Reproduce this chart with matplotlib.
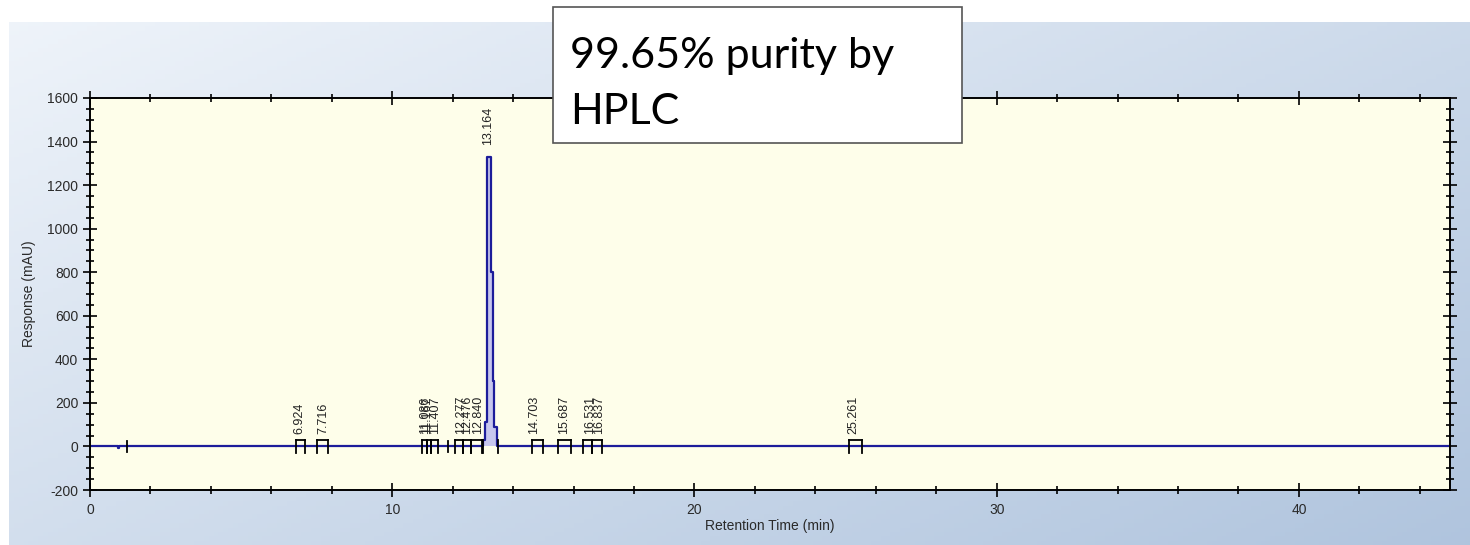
import numpy as np
import matplotlib
matplotlib.use("Agg")
import matplotlib.pyplot as plt
from matplotlib.ticker import MultipleLocator

# chromatogram trace (min, mAU)
trace_time = [0.0, 0.90, 0.93, 0.97, 13.00, 13.02, 13.08, 13.15, 13.26, 13.32, 13.38, 13.46, 45.0]
trace_resp = [0, 0, -8, 0, 0, 30, 110, 1330, 800, 300, 90, 0, 0]

# integrated peaks: retention time, start, end
peak_rt = [6.924, 7.716, 11.086, 11.167, 11.407, 12.277, 12.476, 12.840,
           13.164, 14.703, 15.687, 16.531, 16.837, 25.261]
peak_start = [6.82, 7.52, 11.00, 11.14, 11.28, 12.08, 12.35, 12.62,
              13.00, 14.62, 15.50, 16.30, 16.62, 25.10]
peak_end = [7.12, 7.88, 11.14, 11.28, 11.50, 12.35, 12.62, 12.98,
            13.50, 14.98, 15.90, 16.62, 16.95, 25.55]
peak_height = [0, 0, 0, 0, 0, 0, 0, 0, 1330, 0, 0, 0, 0, 0]

# lone integration marks
extra_marks = [1.22, 11.83]

note = "99.65% purity by\nHPLC"

plt.rcParams["font.family"] = ["Liberation Sans", "DejaVu Sans"]
plt.rcParams["axes.unicode_minus"] = False
fig = plt.figure(figsize=(14.7, 5.45), dpi=100, facecolor="white")

# gradient backdrop
bg = fig.add_axes([9 / 1470, 0, 1 - 9 / 1470, (545 - 22) / 545], zorder=-10)
gx, gy = np.meshgrid(np.linspace(0, 1, 300), np.linspace(0, 1, 120))
g = 0.55 * gx + 0.45 * gy
c0 = np.array([0.935, 0.955, 0.98])
c1 = np.array([0.69, 0.77, 0.87])
img = c0 + (c1 - c0) * g[..., None]
bg.imshow(img, aspect="auto", origin="upper", extent=[0, 1, 0, 1])
bg.set_axis_off()

ax = fig.add_axes([90 / 1470, (545 - 490) / 545, 1360 / 1470, 392 / 545])
ax.set_facecolor("#fefeea")

ax.fill_between(trace_time, trace_resp, 0, step="post", color="#c6c6ee", lw=0)
ax.step(trace_time, trace_resp, where="post", color="#1c1c9a", lw=1.6)

for rt, s, e, h in zip(peak_rt, peak_start, peak_end, peak_height):
    ax.plot([s, s], [-30, 30], color="black", lw=1.3)
    ax.plot([e, e], [-30, 30], color="black", lw=1.3)
    if h == 0:
        ax.plot([s, e], [30, 30], color="black", lw=1.3)
    ax.text(rt, h + 55, f"{rt:.3f}", rotation=90, ha="center", va="bottom",
            fontsize=9, color="#222222")
for m in extra_marks:
    ax.plot([m, m], [-25, 25], color="black", lw=1.3)

ax.set_xlim(0, 45)
ax.set_ylim(-200, 1600)
ax.xaxis.set_major_locator(MultipleLocator(10))
ax.xaxis.set_minor_locator(MultipleLocator(2))
ax.yaxis.set_major_locator(MultipleLocator(200))
ax.yaxis.set_minor_locator(MultipleLocator(50))
ax.tick_params(which="both", direction="inout", top=True, right=True,
               width=1.2, colors="black", labelcolor="#2a2a2a", labelsize=10)
ax.tick_params(which="major", length=10)
ax.tick_params(which="minor", length=6)
ax.tick_params(axis="x", pad=4)
for sp in ax.spines.values():
    sp.set_color("black")
    sp.set_linewidth(1.4)

ax.set_xlabel("Retention Time (min)", fontsize=10, color="#2a2a2a", labelpad=2)
ax.set_ylabel("Response (mAU)", fontsize=10, color="#2a2a2a", labelpad=8)

fig.text(570 / 1470, 1 - 84 / 545, note, fontsize=31, family=["Lato", "DejaVu Sans"],
         ha="left", va="center", linespacing=1.55, zorder=20)
box = plt.Rectangle((553 / 1470, 1 - 143 / 545), 409 / 1470, 136 / 545,
                    transform=fig.transFigure, facecolor="white",
                    edgecolor="#555555", lw=1.2, zorder=15)
fig.add_artist(box)

fig.savefig("out.png", dpi=100, facecolor=fig.get_facecolor())
